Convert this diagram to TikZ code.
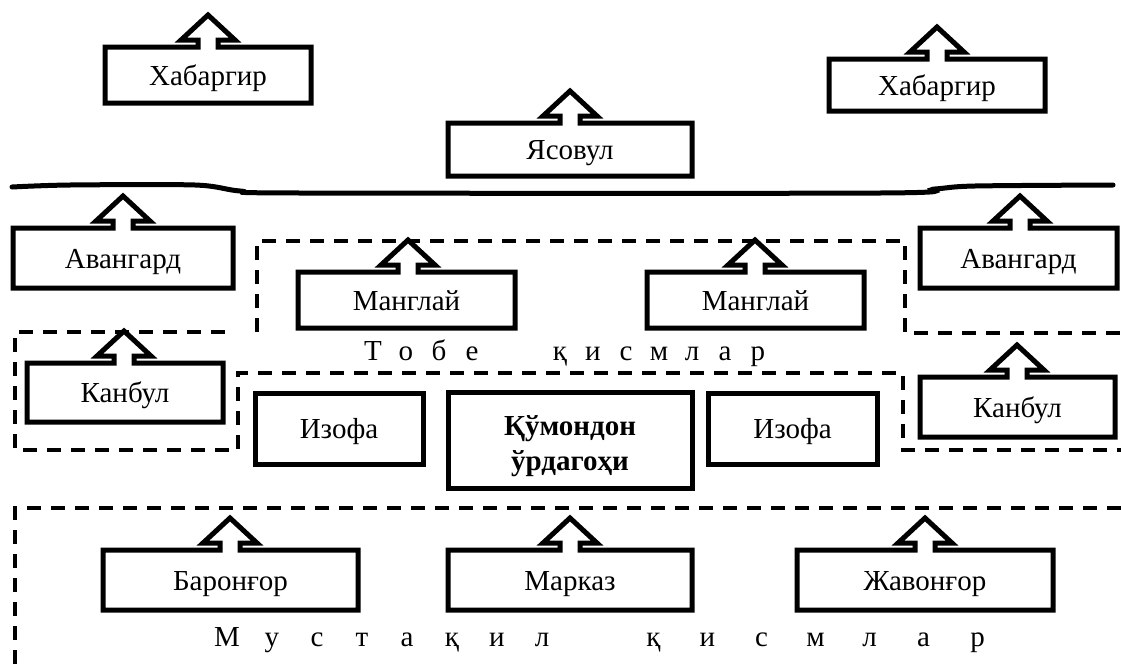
\documentclass[tikz,border=0pt]{standalone}
\usepackage{fontspec}
\setmainfont{Liberation Serif}
\newcommand\lsp[2]{\makebox[#1][c]{#2}}
\newcommand\abox[7]{% name, L, T, R, B, cx, text
  \node[lbl, anchor=base] (#1) at ({(#2+#4)/2},{(#3+#5)/2+10}) {#7};
  \draw[outl] (#2,#3) -- ({#6-10},#3) -- ({#6-10},{#3-7}) -- ({#6-27},{#3-7}) -- (#6,{#3-32})
     -- ({#6+27},{#3-7}) -- ({#6+10},{#3-7}) -- ({#6+10},#3) -- (#4,#3) -- (#4,#5) -- (#2,#5) -- cycle;
}
\newcommand\pbox[6]{% name, L, T, R, B, text
  \node[lbl, anchor=base] (#1) at ({(#2+#4)/2},{(#3+#5)/2+10}) {#6};
  \draw[outl] (#2,#3) rectangle (#4,#5);
}
\begin{document}
\begin{tikzpicture}[x=1pt,y=-1pt,
  outl/.style={line width=5pt, line join=miter, miter limit=10},
  lbl/.style={font=\fontsize{29}{35}\selectfont, inner sep=0pt},
  region/.style={line width=4pt, dash pattern=on 14pt off 10pt},
  wave/.style={line width=5pt, line cap=round}]
\useasboundingbox (0,0) rectangle (1121,664);

% top row
\abox{hab1}{105}{47}{311}{103}{208}{Хабаргир}
\abox{hab2}{829}{59}{1045}{111}{937}{Хабаргир}
\abox{yas}{448}{123}{692}{176}{570}{Ясовул}

% wavy line
\draw[wave] plot[smooth, tension=0.5] coordinates {(12,187) (70,185) (195,185) (240,191) (300,193) (880,193) (935,189) (975,186) (1113,185)};

% second row
\abox{av1}{13}{228}{233}{288}{123}{Авангард}
\abox{av2}{920}{228}{1117}{288}{1020}{Авангард}
\abox{man1}{298}{272}{515}{328}{408}{Манглай}
\abox{man2}{647}{272}{864}{328}{755}{Манглай}

% Тобе region
\draw[region] (257,332) -- (257,241) -- (905,241) -- (905,333) -- (1121,333);
\node[lbl, anchor=base] (tobe1) at (422.5,360) {\lsp{33pt}{Т}\lsp{33pt}{о}\lsp{33pt}{б}\lsp{33pt}{е}};
\node[lbl, anchor=base] (tobe2) at (659,360) {\lsp{33pt}{қ}\lsp{33pt}{и}\lsp{33pt}{с}\lsp{33pt}{м}\lsp{33pt}{л}\lsp{33pt}{а}\lsp{33pt}{р}};

% Канбул / Изофа region
\draw[region] (225,332) -- (15,332) -- (15,450) -- (238,450) -- (238,373) -- (903,373) -- (903,450) -- (1121,450);
\abox{kan1}{27}{363}{223}{422}{124}{Канбул}
\abox{kan2}{920}{377}{1115}{437}{1017}{Канбул}
\pbox{izo1}{255}{393}{423}{464}{Изофа}
\pbox{izo2}{708}{393}{877}{464}{Изофа}
\node[lbl, align=center, font=\fontsize{29}{35}\selectfont\bfseries] (hq) at (570,446) {Қўмондон\\ўрдагоҳи};
\draw[outl] (448,392) rectangle (692,488);

% Мустақил region
\draw[region] (15,664) -- (15,508) -- (1121,508);
\abox{bar}{103}{550}{358}{610}{230}{Баронғор}
\abox{mar}{448}{550}{692}{610}{570}{Марказ}
\abox{jav}{797}{550}{1053}{610}{925}{Жавонғор}
\node[lbl, anchor=base] (must1) at (384.5,646) {\lsp{45pt}{М}\lsp{45pt}{у}\lsp{45pt}{с}\lsp{45pt}{т}\lsp{45pt}{а}\lsp{45pt}{қ}\lsp{45pt}{и}\lsp{45pt}{л}};
\node[lbl, anchor=base] (must2) at (815.5,646) {\lsp{54pt}{қ}\lsp{54pt}{и}\lsp{54pt}{с}\lsp{54pt}{м}\lsp{54pt}{л}\lsp{54pt}{а}\lsp{54pt}{р}};
\end{tikzpicture}
\end{document}
